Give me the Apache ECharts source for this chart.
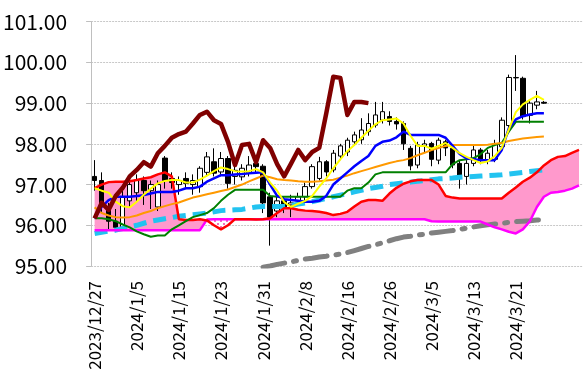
<!DOCTYPE html>
<html><head><meta charset="utf-8">
<script src="https://cdn.jsdelivr.net/npm/echarts@6/dist/echarts.min.js"></script>
<style>html,body{margin:0;padding:0;background:#fff}#c{width:583px;height:378px}</style>
</head><body><div id="c"></div>
<script>
const dates = ["2023/12/27","2023/12/28","2023/12/29","2024/1/2","2024/1/3","2024/1/4","2024/1/5","2024/1/8","2024/1/9","2024/1/10","2024/1/11","2024/1/12","2024/1/15","2024/1/16","2024/1/17","2024/1/18","2024/1/19","2024/1/22","2024/1/23","2024/1/24","2024/1/25","2024/1/26","2024/1/29","2024/1/30","2024/1/31","2024/2/1","2024/2/2","2024/2/5","2024/2/6","2024/2/7","2024/2/8","2024/2/9","2024/2/12","2024/2/13","2024/2/14","2024/2/15","2024/2/16","2024/2/19","2024/2/20","2024/2/21","2024/2/22","2024/2/23","2024/2/26","2024/2/27","2024/2/28","2024/2/29","2024/3/1","2024/3/4","2024/3/5","2024/3/6","2024/3/7","2024/3/8","2024/3/11","2024/3/12","2024/3/13","2024/3/14","2024/3/15","2024/3/18","2024/3/19","2024/3/20","2024/3/21","2024/3/22","2024/3/25","2024/3/26","2024/3/27","","","","",""];

const opens  = [97.20,97.10,96.40,96.10,95.95,96.60,96.80,97.10,96.85,96.45,97.65,97.15,97.00,97.15,97.00,96.95,97.30,97.56,97.31,97.64,97.20,97.19,97.28,97.52,97.45,96.70,96.35,96.60,96.50,96.60,96.70,96.95,97.15,97.56,97.36,97.70,97.80,98.05,98.10,98.30,98.46,98.58,98.67,98.55,98.50,97.89,97.48,97.95,98.01,97.60,98.05,97.89,97.52,97.20,97.52,97.85,97.60,97.62,97.93,98.45,99.62,99.61,98.70,98.95,99.02];
const closes = [97.10,96.55,96.10,95.95,96.70,97.00,97.10,96.85,97.00,97.00,97.10,97.05,97.10,97.03,97.10,97.40,97.68,97.28,97.64,97.03,97.35,97.40,97.48,97.44,96.55,96.20,96.60,96.45,96.55,96.70,96.95,97.44,97.56,97.31,97.77,97.95,98.09,98.22,98.34,98.50,98.71,98.79,98.55,98.49,98.00,97.46,97.97,98.00,97.62,98.09,97.90,97.48,97.19,97.52,97.85,97.60,97.77,98.00,98.58,99.63,99.63,98.67,99.00,99.03,99.00];
const highs  = [97.60,97.30,96.55,96.40,96.85,97.10,97.25,97.20,97.10,97.10,97.70,97.30,97.20,97.30,97.25,97.45,97.80,97.89,97.80,97.70,97.45,97.50,97.70,97.60,97.50,96.80,96.70,96.70,96.75,96.80,97.05,97.50,97.68,97.60,97.85,98.00,98.15,98.30,98.63,98.75,99.03,99.03,98.80,98.65,98.55,97.95,98.05,98.10,98.05,98.15,98.10,97.95,97.60,97.60,97.95,97.90,97.85,98.10,98.65,99.70,100.18,99.65,99.05,99.30,99.05];
const lows   = [96.85,96.30,95.88,95.85,95.90,96.45,96.60,96.50,96.40,96.35,96.90,96.90,96.75,96.90,96.75,96.80,97.20,97.20,97.20,96.90,97.00,97.10,97.20,97.30,96.30,95.50,96.20,96.30,96.20,96.50,96.60,96.90,97.10,97.20,97.30,97.60,97.70,97.95,98.00,98.20,98.40,98.50,98.45,98.35,97.85,97.35,97.40,97.80,97.45,97.50,97.70,97.40,96.90,97.00,97.45,97.50,97.50,97.55,97.90,98.40,99.30,98.60,98.50,98.85,98.98];

const ma5    = [96.91,96.85,96.80,96.58,96.47,96.44,96.58,96.75,96.90,97.03,97.09,97.11,97.11,97.05,97.05,97.12,97.22,97.33,97.42,97.38,97.33,97.32,97.33,97.38,97.30,97.05,96.85,96.57,96.45,96.53,96.60,96.72,96.95,97.15,97.40,97.62,97.82,97.97,98.15,98.32,98.48,98.58,98.60,98.62,98.50,98.20,97.95,97.95,97.88,97.95,98.02,97.90,97.77,97.68,97.60,97.53,97.57,97.70,97.90,98.35,98.78,98.97,99.08,99.18,99.08];
const tenkan = [96.17,96.45,96.62,96.70,96.70,96.70,96.72,96.74,96.78,96.82,96.82,96.82,96.85,96.91,96.91,96.95,97.07,97.15,97.23,97.23,97.25,97.26,97.28,97.29,97.30,97.00,96.72,96.64,96.62,96.60,96.58,96.58,96.60,96.72,97.00,97.15,97.30,97.45,97.58,97.70,97.95,98.05,98.08,98.16,98.30,98.22,98.22,98.22,98.22,98.22,98.15,97.95,97.75,97.64,97.62,97.60,97.60,97.60,97.85,98.38,98.60,98.68,98.72,98.75,98.75];
const kijun  = [96.17,96.17,96.15,96.10,96.02,95.95,95.85,95.78,95.72,95.75,95.75,95.90,96.00,96.10,96.20,96.25,96.30,96.42,96.60,96.75,96.87,96.87,96.87,96.87,96.87,96.72,96.70,96.70,96.70,96.70,96.70,96.70,96.70,96.70,96.70,96.70,96.85,96.91,96.91,97.05,97.25,97.30,97.30,97.30,97.30,97.30,97.30,97.30,97.30,97.30,97.30,97.50,97.60,97.62,97.65,97.75,97.90,97.97,98.02,98.30,98.54,98.54,98.54,98.54,98.54];
const ma25   = [96.44,96.30,96.24,96.20,96.19,96.20,96.24,96.30,96.35,96.42,96.47,96.52,96.56,96.62,96.68,96.72,96.76,96.80,96.84,96.88,96.94,97.00,97.08,97.15,97.22,97.18,97.13,97.11,97.10,97.08,97.07,97.07,97.08,97.10,97.12,97.17,97.22,97.28,97.33,97.38,97.43,97.48,97.53,97.57,97.60,97.65,97.72,97.78,97.85,97.90,97.95,97.97,97.97,97.97,97.97,97.97,97.98,98.00,98.02,98.07,98.10,98.13,98.15,98.17,98.18];
const ma75   = [95.80,95.83,95.86,95.88,95.92,95.96,96.00,96.05,96.10,96.13,96.16,96.19,96.22,96.24,96.26,96.28,96.30,96.33,96.36,96.37,96.38,96.39,96.42,96.45,96.46,96.46,96.46,96.47,96.49,96.52,96.55,96.58,96.62,96.66,96.70,96.74,96.78,96.82,96.86,96.90,96.93,96.96,97.00,97.02,97.04,97.06,97.08,97.10,97.12,97.14,97.15,97.16,97.18,97.19,97.20,97.21,97.22,97.23,97.24,97.26,97.28,97.30,97.32,97.34,97.36];
const ma200  = [null,null,null,null,null,null,null,null,null,null,null,null,null,null,null,null,null,null,null,null,null,null,null,null,94.97,95.00,95.04,95.07,95.10,95.14,95.17,95.19,95.22,95.24,95.27,95.29,95.33,95.38,95.43,95.48,95.52,95.57,95.62,95.67,95.71,95.73,95.76,95.78,95.81,95.83,95.85,95.87,95.90,95.93,95.96,95.99,96.01,96.03,96.05,96.07,96.09,96.10,96.11,96.13,96.14];
const spanA  = [96.91,97.00,97.06,97.07,97.07,97.08,97.11,97.15,97.18,97.25,97.30,97.20,96.15,96.13,96.13,96.15,96.12,96.00,95.90,96.00,96.15,96.15,96.15,96.14,96.15,96.17,96.30,96.42,96.42,96.38,96.36,96.35,96.33,96.30,96.25,96.28,96.33,96.46,96.58,96.62,96.62,96.60,96.78,96.92,97.02,97.08,97.11,97.11,97.11,97.00,96.72,96.68,96.66,96.66,96.66,96.66,96.66,96.66,96.66,96.80,96.93,97.07,97.17,97.30,97.47,97.60,97.68,97.70,97.78,97.85];
const spanB  = [95.88,95.88,95.88,95.88,95.88,95.88,95.88,95.88,95.88,95.88,95.88,95.88,95.88,95.88,95.88,95.88,96.14,96.15,96.15,96.15,96.15,96.15,96.15,96.15,96.15,96.15,96.15,96.15,96.15,96.15,96.15,96.15,96.15,96.15,96.15,96.15,96.15,96.15,96.15,96.15,96.15,96.15,96.15,96.15,96.15,96.15,96.15,96.15,96.10,96.09,96.09,96.09,96.09,96.09,96.09,96.09,96.02,95.95,95.90,95.84,95.80,95.90,96.10,96.45,96.70,96.80,96.82,96.85,96.90,96.98];
const chikou = [96.17,96.55,96.38,96.72,96.92,97.20,97.36,97.55,97.44,97.77,97.95,98.15,98.24,98.30,98.50,98.71,98.79,98.58,98.49,98.05,97.48,97.97,98.00,97.55,98.09,97.90,97.50,97.20,97.52,97.85,97.60,97.80,97.90,98.75,99.65,99.62,98.71,99.03,99.03,99.00];
const yTicks = [95, 96, 97, 98, 99, 100, 101];

const candle = opens.map((o, i) => [o, closes[i], lows[i], highs[i]]);
const cloudBase = spanA.map((a, i) => Math.min(a, spanB[i]));
const cloudUp = spanA.map((a, i) => Math.max(a - spanB[i], 0));
const cloudDown = spanA.map((a, i) => Math.max(spanB[i] - a, 0));

const pat = document.createElement('canvas');
pat.width = 6; pat.height = 6;
const pc = pat.getContext('2d');
pc.fillStyle = '#ffffff'; pc.fillRect(0, 0, 6, 6);
pc.fillStyle = '#f26fc0';
pc.fillRect(1, 1, 2, 2);
pc.fillRect(4, 4, 2, 2);

const chart = echarts.init(document.getElementById('c'), null, {renderer: 'canvas'});
const lineBase = {type: 'line', showSymbol: false, symbol: 'none', animation: false, z: 5};
chart.setOption({
  animation: false,
  backgroundColor: '#ffffff',
  grid: {left: 82.5, top: 21.7, width: 500, height: 244.3},
  xAxis: {
    type: 'category', data: dates, boundaryGap: true,
    axisLine: {show: false}, axisTick: {show: false}, splitLine: {show: false},
    axisLabel: {
      rotate: 90, margin: 15, fontSize: 17, color: '#000',
      fontFamily: 'Noto Sans CJK JP',
      interval: (i) => i % 6 === 0 && i <= 60
    }
  },
  yAxis: {
    type: 'value', min: yTicks[0], max: yTicks[yTicks.length - 1], interval: 1,
    axisLine: {show: true, lineStyle: {color: '#bfbfbf', width: 1}},
    axisTick: {show: true, length: 5, lineStyle: {color: '#bfbfbf'}},
    splitLine: {show: true, lineStyle: {color: '#c8c8c8', type: [2, 1], width: 1}},
    axisLabel: {
      margin: 24, fontSize: 21, color: '#000',
      fontFamily: 'Liberation Sans Narrow, Noto Sans CJK JP',
      formatter: (v) => v.toFixed(2)
    }
  },
  series: [
    {...lineBase, name: 'base', data: cloudBase, stack: 'cloud', lineStyle: {opacity: 0}, z: 1},
    {...lineBase, name: 'cloudUp', data: cloudUp, stack: 'cloud', lineStyle: {opacity: 0}, areaStyle: {color: '#ff99cc', opacity: 1}, z: 1},
    {...lineBase, name: 'cloudDown', data: cloudDown, stack: 'cloud', lineStyle: {opacity: 0}, areaStyle: {color: {image: pat, repeat: 'repeat'}, opacity: 1}, z: 1},
    {type: 'candlestick', name: 'price', data: candle, barWidth: 5, z: 2,
      itemStyle: {color: '#ffffff', color0: '#000000', borderColor: '#000000', borderColor0: '#000000', borderWidth: 1}},
    {...lineBase, name: 'ma200', data: ma200, lineStyle: {color: '#808080', width: 5, type: [22, 9, 3, 9], cap: 'round'}, z: 3},
    {...lineBase, name: 'ma75', data: ma75, lineStyle: {color: '#22c3f0', width: 5, type: [13, 7]}, z: 3},
    {...lineBase, name: 'spanB', data: spanB, lineStyle: {color: '#ff00ff', width: 2.5}, z: 4},
    {...lineBase, name: 'spanA', data: spanA, lineStyle: {color: '#ff0000', width: 2.5}, z: 4},
    {...lineBase, name: 'kijun', data: kijun, lineStyle: {color: '#008000', width: 2}},
    {...lineBase, name: 'ma25', data: ma25, lineStyle: {color: '#ff9900', width: 2}},
    {...lineBase, name: 'tenkan', data: tenkan, lineStyle: {color: '#0000ff', width: 2.5}},
    {...lineBase, name: 'ma5', data: ma5, lineStyle: {color: '#ffff00', width: 2}},
    {...lineBase, name: 'chikou', data: chikou, lineStyle: {color: '#800000', width: 4.5, join: 'round'}, z: 6}
  ]
});
</script></body></html>
